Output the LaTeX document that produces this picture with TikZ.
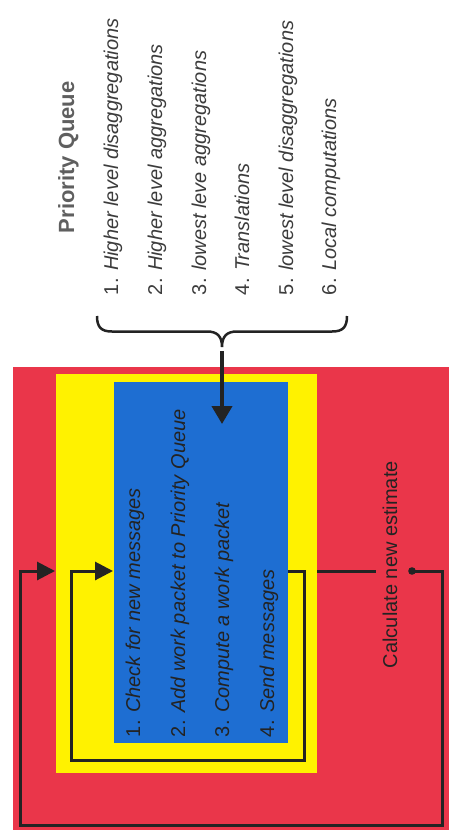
\documentclass[tikz,border=0pt]{standalone}
\usepackage{fontspec}
\setmainfont{Liberation Sans}
\usetikzlibrary{arrows.meta,calc}
\definecolor{redbg}{RGB}{234,54,74}
\definecolor{yellowbg}{RGB}{255,242,0}
\definecolor{bluebg}{RGB}{30,110,210}
\definecolor{ink}{RGB}{35,35,35}
\definecolor{listink}{RGB}{60,60,60}
\definecolor{titlegray}{RGB}{95,95,95}
\begin{document}
\begin{tikzpicture}[x=1pt,y=-1pt,
  panel/.style={rectangle,draw=none,inner sep=0pt,outer sep=0pt},
  vtext/.style={rotate=90,anchor=base west,inner sep=0pt,outer sep=0pt,font=\fontsize{20}{24}\selectfont},
  listitem/.style={vtext,text=listink},
  stepitem/.style={vtext,text=ink},
  loopline/.style={draw=ink,line width=3pt,line join=miter},
  bigtip/.style={-{Triangle[length=18pt,width=18pt]}},
]
\useasboundingbox (0,0) rectangle (450,837);
\fill[white] (0,0) rectangle (450,837);

% panels
\node[panel,fill=redbg,minimum width=436pt,minimum height=463pt] (red) at (231,598.5) {};
\node[panel,fill=yellowbg,minimum width=261pt,minimum height=399pt] (yellow) at (186.5,573.5) {};
\node[panel,fill=bluebg,minimum width=174pt,minimum height=361pt] (blue) at (201,562.5) {};

% priority queue title and list
\node[vtext,font=\fontsize{22}{26}\selectfont\bfseries,text=titlegray] (title) at (74,233) {Priority Queue};
\node[listitem] (q1) at (118,295) {1. \textit{Higher level disaggregations}};
\node[listitem] (q2) at (162,295) {2. \textit{Higher level aggregations}};
\node[listitem] (q3) at (206,295) {3. \textit{lowest leve aggregations}};
\node[listitem] (q4) at (249,295) {4. \textit{Translations}};
\node[listitem] (q5) at (293,295) {5. \textit{lowest level disaggregations}};
\node[listitem] (q6) at (336,295) {6. \textit{Local computations}};

% steps in blue box
\node[stepitem] (s1) at (140,737) {1. \textit{Check for new messages}};
\node[stepitem] (s2) at (185,737) {2. \textit{Add work packet to Priority Queue}};
\node[stepitem] (s3) at (229,737) {3. \textit{Compute a work packet}};
\node[stepitem] (s4) at (274,737) {4. \textit{Send messages}};

% calculate label
\node[stepitem] (calc) at (397,668) {Calculate new estimate};

% brace
\coordinate (bracetip) at (222,347);
\draw[draw=ink,line width=2.5pt]
  (97,316) .. controls (97,327) and (101,331.5) .. (112,331.5)
  -- (207,331.5) .. controls (217,331.5) and (222,336) .. (bracetip)
  .. controls (222,336) and (227,331.5) .. (237,331.5)
  -- (332,331.5) .. controls (343,331.5) and (347,327) .. (347,316);

% arrow from brace into blue box
\coordinate (arrowstart) at (222,351);
\coordinate (arrowend) at (222,424);
\draw[draw=ink,fill=ink,line width=4pt,-{Triangle[length=18pt,width=20pt]}] (arrowstart) -- (arrowend);

% loops
\coordinate (yline) at (0,571);
\draw[loopline,bigtip] (blue.east |- yline) -- (304,571) -- (304,760) -- (71,760) -- (71,571) -- ($(blue.west |- yline)+(-1,0)$);

\coordinate (stubend) at (376,571);
\coordinate (dot) at (412,571);
\draw[loopline] (yellow.east |- yline) -- (stubend);
\fill[ink] (dot) circle (3.8pt);
\draw[loopline,bigtip] (dot) -- (442,571) -- (442,825) -- (20,825) -- (20,571) -- ($(yellow.west |- yline)+(-1,0)$);
\end{tikzpicture}
\end{document}
